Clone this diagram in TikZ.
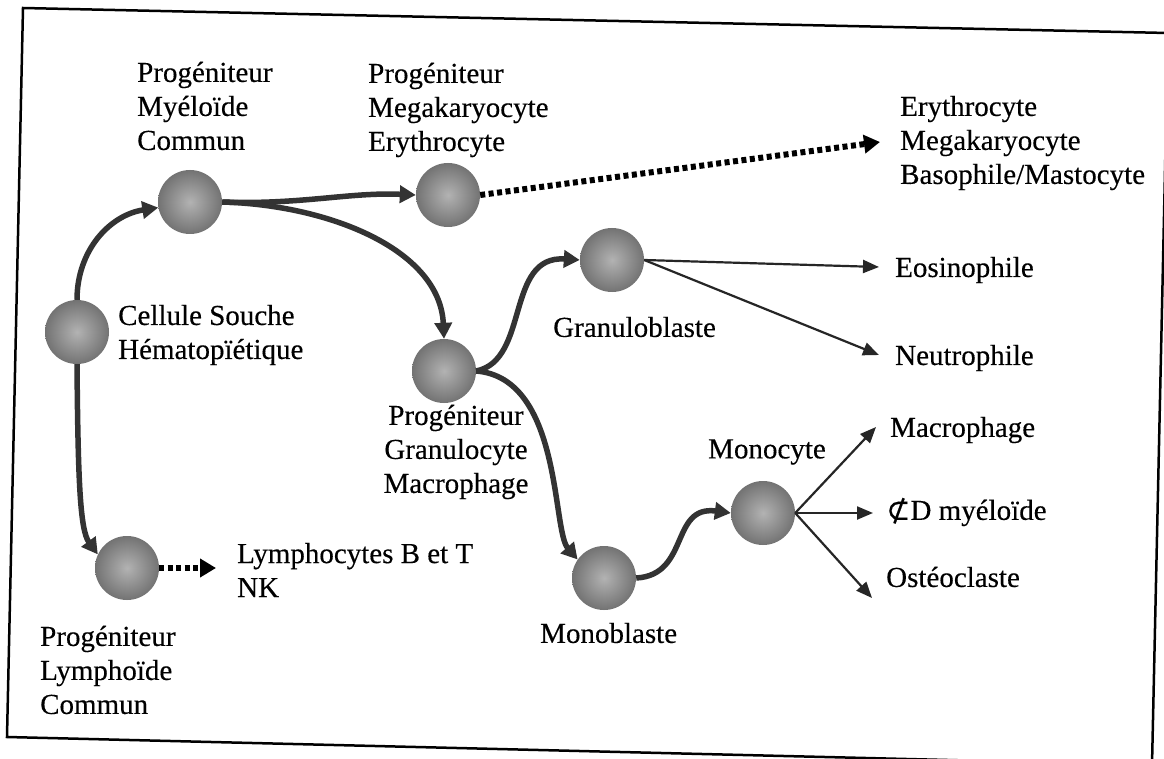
\documentclass[tikz,border=0pt]{standalone}
\usepackage{fontspec}
\setmainfont{Liberation Serif}[FakeBold=0.3]
\newfontfamily\symf{DejaVu Serif}[FakeBold=0.3]
\usetikzlibrary{arrows.meta}
\begin{document}
\begin{tikzpicture}[x=1pt,y=-1pt,
  cell/.style={circle, minimum size=64pt, inner sep=0pt, shading=radial, inner color=black!30, outer color=black!55},
  lbl/.style={inner sep=0pt, font=\fontsize{29}{34}\selectfont, align=left},
  thickarrow/.style={line width=5.5pt, draw=black!80, -{Triangle[length=16pt,width=17pt]}},
  thinarrow/.style={line width=2.2pt, draw=black!85, -{Triangle[length=16pt,width=13pt]}},
  dotarrow/.style={line width=6pt, draw=black, dash pattern=on 5pt off 3.5pt, -{Triangle[length=16pt,width=18pt]}},
]
\useasboundingbox (0,0) rectangle (1164,759);
\fill[white] (0,0) rectangle (1164,759);
\draw[line width=2.5pt] (23,8) -- (1168,33) -- (1152,765) -- (7,737) -- cycle;

% cells
\node[cell] (hsc) at (77,332) {};
\node[cell] (cmp) at (190,202) {};
\node[cell] (mep) at (448,195) {};
\node[cell] (gmp) at (444,371) {};
\node[cell] (gran) at (612,260) {};
\node[cell] (monob) at (604,578) {};
\node[cell] (monoc) at (763,513) {};
\node[cell] (clp) at (127,568) {};

% labels
\node[lbl, anchor=west] (lcmp) at (137,106) {Progéniteur\\Myéloïde\\Commun};
\node[lbl, anchor=west] (lmep) at (368,110) {Progéniteur\\Megakaryocyte\\Erythrocyte};
\node[lbl, anchor=west] (lery) at (900,143) {Erythrocyte\\Megakaryocyte\\Basophile/Mastocyte};
\node[lbl, anchor=west] (lhsc) at (118,335) {Cellule Souche\\Hématopïétique};
\node[lbl, anchor=west] (lgran) at (553,327) {Granuloblaste};
\node[lbl, align=center] (lgmp) at (456,452) {Progéniteur\\Granulocyte\\Macrophage};
\node[lbl, anchor=west] (leos) at (895,270) {Eosinophile};
\node[lbl, anchor=west] (lneu) at (895,358) {Neutrophile};
\node[lbl, anchor=west] (lmonoc) at (708,452) {Monocyte};
\node[lbl, anchor=west] (lmac) at (890,430) {Macrophage};
\node[lbl, anchor=west] (lcd) at (886,512) {{\symf ⊄}D myéloïde};
\node[lbl, anchor=west] (lost) at (886,577) {Ostéoclaste};
\node[lbl, anchor=west] (lmonob) at (540,633) {Monoblaste};
\node[lbl, anchor=west] (llym) at (237,570) {Lymphocytes B et T\\NK};
\node[lbl, anchor=west] (lclp) at (40,670) {Progéniteur\\Lymphoïde\\Commun};

% arrow tip coordinates
\coordinate (tery) at (880,142);
\coordinate (tlym) at (216,568);
\coordinate (teos) at (879,267);
\coordinate (tneu) at (879,355);
\coordinate (tmac) at (876,427);
\coordinate (tcd) at (873,513);
\coordinate (tost) at (872,598);

% thick connectors
\draw[thickarrow] (hsc.north) .. controls (77,250) and (110,215) .. (cmp.190);
\draw[thickarrow] (hsc.south) .. controls (78,480) and (80,530) .. (clp.155);
\draw[thickarrow] (cmp.east) .. controls (300,205) and (350,192) .. (mep.west);
\draw[thickarrow] (cmp.east) .. controls (330,205) and (440,250) .. (gmp.north);
\draw[thickarrow] (gmp.east) .. controls (530,360) and (505,255) .. (gran.west);
\draw[thickarrow] (gmp.east) .. controls (562,378) and (552,530) .. (monob.145);
\draw[thickarrow] (monob.east) .. controls (690,575) and (670,505) .. (monoc.west);

% dotted
\draw[dotarrow] (mep.east) -- (tery);
\draw[dotarrow] (clp.east) -- (tlym);

% thin
\draw[thinarrow] (gran.east) -- (teos);
\draw[thinarrow] (gran.east) -- (tneu);
\draw[thinarrow] (monoc.east) -- (tmac);
\draw[thinarrow] (monoc.east) -- (tcd);
\draw[thinarrow] (monoc.east) -- (tost);
\end{tikzpicture}
\end{document}
